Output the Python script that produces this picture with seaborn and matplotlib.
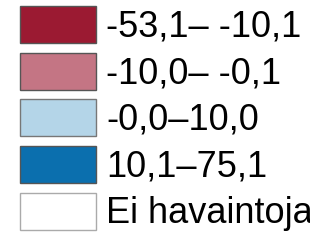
import matplotlib
matplotlib.use("Agg")
import matplotlib.pyplot as plt
from matplotlib.patches import Patch
import seaborn as sns

# legend classes (Finnish map legend)
class_labels = ["-53,1\u2013 -10,1", "-10,0\u2013 -0,1", "-0,0\u201310,0", "10,1\u201375,1", "Ei havaintoja"]
class_colors = ["#9b1a32", "#c47584", "#b4d5e8", "#0b6fae", "#ffffff"]
edge_colors = ["#555555", "#555555", "#777777", "#555555", "#aaaaaa"]

sns.set_theme(style="white")
plt.rcParams['font.family'] = ['Liberation Sans', 'DejaVu Sans']

fig = plt.figure(figsize=(3.1, 2.4), dpi=100)
palette = sns.color_palette(class_colors)
handles = [Patch(facecolor=c, edgecolor=e, linewidth=1.0) for c, e in zip(palette, edge_colors)]

fig.legend(handles, class_labels, loc='upper left', bbox_to_anchor=(20 / 310, 1 - 6 / 240),
           frameon=False, borderpad=0, borderaxespad=0, fontsize=26,
           handlelength=2.1, handleheight=1.2, handletextpad=0.28,
           labelspacing=0.22, labelcolor='black')

fig.savefig("out.png", dpi=100, facecolor='white')
